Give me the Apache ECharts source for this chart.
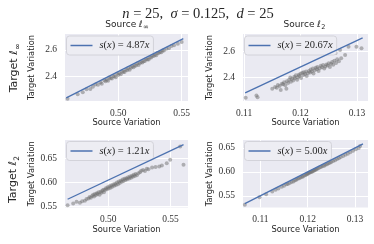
<!DOCTYPE html>
<html><head><meta charset="utf-8">
<script src="https://cdn.jsdelivr.net/npm/echarts@6/dist/echarts.min.js"></script>
<style>html,body{margin:0;padding:0;background:#fff}#c{width:374px;height:244px}</style>
</head><body><div id="c"></div>
<script>
// ---- data ----
const p1X = [0.4600,0.4680,0.4720,0.4750,0.4780,0.4800,0.4820,0.4840,0.4860,0.4870,0.4890,0.4900,0.4910,0.4920,0.4930,0.4940,0.4950,0.4960,0.4970,0.4980,0.4990,0.5000,0.5010,0.5020,0.5030,0.5040,0.5050,0.5060,0.5070,0.5080,0.5090,0.5100,0.5110,0.5120,0.5130,0.5140,0.5150,0.5160,0.5170,0.5180,0.5190,0.5200,0.5210,0.5220,0.5230,0.5240,0.5250,0.5260,0.5270,0.5280,0.5290,0.5300,0.5310,0.5320,0.5330,0.5340,0.5350,0.5360,0.5380,0.5400,0.5420,0.5440,0.5470,0.5500];
const p1Y = [2.230,2.264,2.279,2.301,2.303,2.320,2.337,2.335,2.352,2.342,2.369,2.361,2.373,2.366,2.391,2.384,2.383,2.401,2.400,2.392,2.418,2.410,2.422,2.415,2.436,2.432,2.431,2.448,2.445,2.462,2.449,2.464,2.474,2.467,2.480,2.481,2.496,2.485,2.498,2.508,2.503,2.514,2.515,2.530,2.527,2.526,2.542,2.542,2.554,2.553,2.562,2.559,2.576,2.575,2.584,2.581,2.595,2.595,2.608,2.612,2.628,2.634,2.645,2.660];

const p2X = [0.1103,0.1122,0.1124,0.1150,0.1155,0.1158,0.1160,0.1163,0.1165,0.1167,0.1169,0.1171,0.1173,0.1175,0.1176,0.1178,0.1180,0.1182,0.1183,0.1185,0.1187,0.1189,0.1190,0.1192,0.1194,0.1195,0.1197,0.1198,0.1200,0.1201,0.1203,0.1205,0.1206,0.1208,0.1210,0.1211,0.1213,0.1215,0.1217,0.1218,0.1220,0.1222,0.1223,0.1225,0.1227,0.1229,0.1230,0.1232,0.1234,0.1236,0.1238,0.1240,0.1242,0.1244,0.1246,0.1248,0.1250,0.1252,0.1254,0.1256,0.1258,0.1260,0.1262,0.1263,0.1265,0.1268,0.1270,0.1272,0.1279,0.1285,0.1299,0.1308];
const p2Y = [2.241,2.257,2.244,2.310,2.325,2.318,2.340,2.332,2.300,2.350,2.345,2.362,2.338,2.310,2.370,2.355,2.380,2.398,2.365,2.388,2.375,2.405,2.392,2.415,2.380,2.400,2.420,2.410,2.428,2.395,2.435,2.418,2.440,2.425,2.445,2.410,2.432,2.450,2.438,2.460,2.445,2.468,2.430,2.455,2.475,2.462,2.480,2.450,2.470,2.490,2.478,2.495,2.468,2.485,2.500,2.492,2.510,2.480,2.505,2.520,2.498,2.530,2.590,2.512,2.540,2.525,2.613,2.548,2.574,2.639,2.639,2.626];

const p3X = [0.4673,0.4718,0.4745,0.4772,0.4790,0.4812,0.4825,0.4841,0.4850,0.4860,0.4870,0.4878,0.4885,0.4892,0.4900,0.4908,0.4915,0.4922,0.4930,0.4938,0.4945,0.4952,0.4960,0.4965,0.4973,0.4980,0.4988,0.4995,0.5003,0.5010,0.5018,0.5025,0.5032,0.5040,0.5048,0.5055,0.5062,0.5070,0.5078,0.5085,0.5092,0.5100,0.5108,0.5115,0.5122,0.5130,0.5138,0.5145,0.5152,0.5160,0.5168,0.5175,0.5183,0.5190,0.5198,0.5205,0.5213,0.5220,0.5230,0.5242,0.5255,0.5265,0.5280,0.5295,0.5310,0.5323,0.5352,0.5380,0.5410,0.5431,0.5470,0.5498,0.5578,0.5605];
const p3Y = [0.5531,0.5567,0.5600,0.5580,0.5610,0.5620,0.5660,0.5670,0.5700,0.5685,0.5720,0.5745,0.5710,0.5760,0.5735,0.5780,0.5760,0.5800,0.5745,0.5810,0.5790,0.5830,0.5850,0.5800,0.5844,0.5880,0.5860,0.5900,0.5875,0.5920,0.5890,0.5940,0.5910,0.5960,0.5935,0.5975,0.5950,0.6000,0.5965,0.6020,0.5990,0.6035,0.6017,0.6060,0.6030,0.6075,0.6050,0.6090,0.6065,0.6110,0.6080,0.6125,0.6100,0.6140,0.6120,0.6160,0.6135,0.6175,0.6150,0.6190,0.6210,0.6240,0.6260,0.6235,0.6285,0.6275,0.6308,0.6320,0.6330,0.6350,0.6400,0.6469,0.6746,0.6365];

const p4X = [0.1067,0.1098,0.1112,0.1125,0.1132,0.1138,0.1145,0.1150,0.1155,0.1158,0.1162,0.1166,0.1170,0.1173,0.1176,0.1179,0.1182,0.1185,0.1188,0.1190,0.1193,0.1196,0.1198,0.1200,0.1202,0.1204,0.1206,0.1208,0.1210,0.1212,0.1214,0.1216,0.1218,0.1220,0.1223,0.1226,0.1229,0.1232,0.1235,0.1238,0.1241,0.1244,0.1247,0.1250,0.1254,0.1258,0.1262,0.1266,0.1270,0.1275,0.1280,0.1285,0.1290,0.1296,0.1302,0.1308,0.1311];
const p4Y = [0.5310,0.5470,0.5530,0.5590,0.5625,0.5650,0.5690,0.5710,0.5740,0.5745,0.5770,0.5790,0.5800,0.5825,0.5835,0.5855,0.5865,0.5880,0.5900,0.5905,0.5925,0.5935,0.5950,0.5960,0.5970,0.5985,0.5990,0.6005,0.6010,0.6025,0.6030,0.6045,0.6050,0.6065,0.6075,0.6095,0.6105,0.6125,0.6130,0.6150,0.6160,0.6180,0.6190,0.6205,0.6230,0.6245,0.6270,0.6285,0.6310,0.6330,0.6360,0.6380,0.6410,0.6440,0.6475,0.6500,0.6540];

const fitSlopes = ['4.87','20.67','1.21','5.00'];
const fitX = [[0.4590,0.5513],[0.1102,0.1310],[0.4673,0.5605],[0.1067,0.1317]];
const fitY = [[2.2353,2.6848],[2.2778,2.7078],[0.5654,0.6782],[0.5335,0.6585]];

const xTicks = [[0.50,0.55],[0.11,0.12,0.13],[0.50,0.55],[0.11,0.12,0.13]];
const xTickLabels = [['0.50','0.55'],['0.11','0.12','0.13'],['0.50','0.55'],['0.11','0.12','0.13']];
const yTicks = [[2.4,2.6],[2.4,2.6],[0.55,0.60,0.65],[0.55,0.60,0.65]];
const yTickLabels = [['2.4','2.6'],['2.4','2.6'],['0.55','0.60','0.65'],['0.55','0.60','0.65']];

const suptitleParts = ['n','25','σ','0.125','d','25'];
const colTitles = ['Source ℓ', 'Source ℓ'];
const colSubs = ['∞', '2'];
const rowTitles = ['Target ℓ', 'Target ℓ'];
const rowSubs = ['∞', '2'];
const xName = 'Source Variation';
const yName = 'Target Variation';

// ---- layout ----
const grids = [
  {left:65, top:34, width:123, height:67},
  {left:243, top:34, width:125, height:67},
  {left:65, top:140, width:123, height:67.5},
  {left:243, top:140, width:125, height:67.5}
];
const xRange = [[0.4580,0.5550],[0.10982,0.13195],[0.4652,0.5641],[0.10631,0.13276]];
const yRange = [[2.2121,2.7197],[2.2148,2.738],[0.5483,0.6878],[0.5255,0.6667]];
const legendPos = [{left:66.5,top:36},{left:244.5,top:36},{left:66.5,top:141.5},{left:244.5,top:141.5}];

const TXT = '#262626';
const serif = 'Liberation Serif';
const sans = 'DejaVu Sans';

function fmt(ticks, labels){
  return v => { for (let k=0;k<ticks.length;k++) if (Math.abs(v-ticks[k])<1e-9) return labels[k]; return ''; };
}
const fitName = i => 's(x) = ' + fitSlopes[i] + 'x';

const option = {
  animation:false,
  backgroundColor:'#fff',
  title:{
    text:'{i|'+suptitleParts[0]+'} = '+suptitleParts[1]+',  {i|'+suptitleParts[2]+'} = '+suptitleParts[3]+',  {i|'+suptitleParts[4]+'} = '+suptitleParts[5],
    left:193, top:2, textAlign:'center',
    textStyle:{fontFamily:serif, fontSize:14.5, fontWeight:'normal', color:TXT,
      rich:{i:{fontFamily:serif, fontStyle:'italic', fontSize:14.5, color:TXT}}}
  },
  grid: grids.map(g => Object.assign({show:true, backgroundColor:'#EAEAF2', borderWidth:0, containLabel:false}, g)),
  xAxis: grids.map((g,i)=>({
    type:'value', gridIndex:i, min:xRange[i][0], max:xRange[i][1],
    axisLine:{show:false}, axisTick:{show:false, customValues:xTicks[i]},
    axisLabel:{customValues:xTicks[i], formatter:fmt(xTicks[i],xTickLabels[i]), margin:7,
      fontFamily:serif, fontSize:9.5, color:'#333'},
    splitLine:{show:true, lineStyle:{color:'#fff', width:1}},
    name:xName, nameLocation:'middle', nameGap:18,
    nameTextStyle:{fontFamily:sans, fontSize:8.3, color:TXT}
  })),
  yAxis: grids.map((g,i)=>({
    type:'value', gridIndex:i, min:yRange[i][0], max:yRange[i][1],
    axisLine:{show:false}, axisTick:{show:false, customValues:yTicks[i]},
    axisLabel:{customValues:yTicks[i], formatter:fmt(yTicks[i],yTickLabels[i]), margin:8,
      fontFamily:serif, fontSize:9.5, color:'#333'},
    splitLine:{show:true, lineStyle:{color:'#fff', width:1}},
    name:yName, nameLocation:'middle', nameGap:29,
    nameTextStyle:{fontFamily:sans, fontSize:8.3, color:TXT}
  })),
  legend: grids.map((g,i)=>Object.assign({
    data:[{name:fitName(i), icon:'rect'}], orient:'horizontal', padding:[4,4,4,4],
    itemWidth:22, itemHeight:1.5, itemGap:0,
    itemStyle:{color:'#4C72B0', borderWidth:0},
    backgroundColor:'#EDEDF3', borderColor:'#CDCDD3', borderWidth:0.8, borderRadius:3,
    selectedMode:false,
    formatter: () => '{i|s}({i|x}) = ' + fitSlopes[i] + '{i|x}',
    textStyle:{fontFamily:serif, fontSize:10.5, color:TXT, padding:[0,0,0,2], lineHeight:11,
      rich:{i:{fontFamily:serif, fontStyle:'italic', fontSize:10.5, color:TXT, lineHeight:11}}}
  }, legendPos[i])),
  series: [],
  graphic: []
};
const pts = [[p1X,p1Y],[p2X,p2Y],[p3X,p3Y],[p4X,p4Y]];
pts.forEach((p,i)=>{
  option.series.push({
    type:'scatter', xAxisIndex:i, yAxisIndex:i, silent:true,
    data:p[0].map((x,k)=>[x,p[1][k]]), symbolSize:4,
    itemStyle:{color:'rgba(112,112,112,0.62)'}
  });
});
pts.forEach((p,i)=>{
  option.series.push({
    type:'line', name:fitName(i), xAxisIndex:i, yAxisIndex:i, silent:true,
    data:fitX[i].map((x,k)=>[x,fitY[i][k]]), symbol:'none', z:5,
    lineStyle:{color:'#4C72B0', width:1.3}, itemStyle:{color:'#4C72B0'}
  });
});
// column titles
const colRight = [142.8, 321];
colRight.forEach((xr,j)=>{
  option.graphic.push({type:'text', x:xr, y:24.5, silent:true,
    style:{text:colTitles[j], align:'right', verticalAlign:'middle', fontFamily:sans, fontSize:9, fill:TXT}});
  option.graphic.push({type:'text', x:xr+0.3, y:27.5, silent:true,
    style:{text:colSubs[j], align:'left', verticalAlign:'middle', fontFamily:sans, fontSize:j===0?7:6.5, fill:TXT}});
});
// row titles
const rowPos = [[14.5,69,18.7],[13.5,181,20]];
rowPos.forEach((rp,j)=>{
  option.graphic.push({type:'group', x:rp[0], y:rp[1], rotation:Math.PI/2, silent:true, children:[
    {type:'text', x:rp[2], y:0, style:{text:rowTitles[j], align:'right', verticalAlign:'middle', fontFamily:sans, fontSize:11, fill:TXT}},
    {type:'text', x:rp[2]+0.3, y:3.5, style:{text:rowSubs[j], align:'left', verticalAlign:'middle', fontFamily:sans, fontSize:j===0?8:7.5, fill:TXT}}
  ]});
});
const chart = echarts.init(document.getElementById('c'), null, {renderer:'canvas'});
chart.setOption(option);
</script></body></html>
